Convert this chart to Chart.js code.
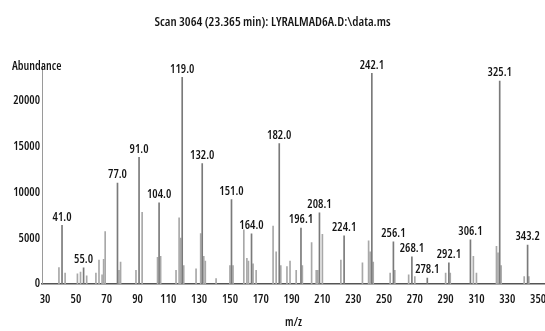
<!DOCTYPE html>
<html>
<head>
<meta charset="utf-8">
<script src="https://cdn.jsdelivr.net/npm/chart.js@4/dist/chart.umd.min.js"></script>
<style>
  html, body { margin: 0; padding: 0; background: #ffffff; }
  canvas { display: block; }
</style>
</head>
<body>
<canvas id="c" width="545" height="331"></canvas>
<script>
// ---- Data ----
const chartTitle = "Scan 3064 (23.365 min): LYRALMAD6A.D:\\data.ms";
const yAxisLabel = "Abundance";
const xAxisLabel = "m/z";

// Labeled peaks (m/z and abundance)
const peakMz = [41.0, 55.0, 77.0, 91.0, 104.0, 119.0, 132.0, 151.0, 164.0, 182.0, 196.1, 208.1, 224.1, 242.1, 256.1, 268.1, 278.1, 292.1, 306.1, 325.1, 343.2];
const peakAbundance = [6400, 1750, 11000, 13800, 8850, 22500, 13100, 9200, 5450, 15300, 6100, 7750, 5250, 22950, 4600, 2950, 650, 2300, 4800, 22100, 4250];
const peakLabels = ["41.0", "55.0", "77.0", "91.0", "104.0", "119.0", "132.0", "151.0", "164.0", "182.0", "196.1", "208.1", "224.1", "242.1", "256.1", "268.1", "278.1", "292.1", "306.1", "325.1", "343.2"];

// Unlabeled minor peaks
const minorMz = [39, 43, 51, 53, 57, 63, 65, 67, 68, 69, 78, 79, 89, 93, 103, 105, 115, 117, 118, 120, 128, 131, 133, 134, 141, 150, 152, 159, 161, 162, 165, 167, 178, 180, 183, 187, 189, 193, 197, 203, 206, 207, 210, 222, 236, 240, 241, 243, 254, 257, 266, 270, 290, 293, 308, 310, 323, 324, 326, 341, 344];
const minorAbundance = [1800, 1200, 1100, 1300, 900, 1200, 2600, 1000, 2700, 5700, 1500, 2400, 1500, 7800, 2900, 3000, 1500, 7200, 5000, 2000, 1650, 5500, 3000, 2500, 600, 2000, 2000, 5900, 2800, 2500, 2200, 1500, 6300, 3500, 2000, 1900, 2500, 1500, 2000, 4500, 1500, 1500, 5400, 2600, 2300, 4700, 3500, 2400, 1200, 1500, 1000, 800, 1200, 1200, 3000, 1200, 4100, 3400, 2000, 800, 800];

const xTicks = [30, 50, 70, 90, 110, 130, 150, 170, 190, 210, 230, 250, 270, 290, 310, 330, 350];
const yTicks = [0, 5000, 10000, 15000, 20000];

// ---- Chart ----
const FAMILY = '"Open Sans", "DejaVu Sans", sans-serif';
const WEIGHT = '600 condensed';   // weight + font-stretch for the narrow look
const TEXT = '#141414';

const peakLabelPlugin = {
  id: 'peakLabels',
  afterDatasetsDraw(chart) {
    const ctx = chart.ctx;
    const meta = chart.getDatasetMeta(0);
    ctx.save();
    ctx.font = WEIGHT + ' 12px ' + FAMILY;
    ctx.fillStyle = TEXT;
    ctx.textAlign = 'center';
    ctx.textBaseline = 'bottom';
    meta.data.forEach((bar, i) => {
      ctx.fillText(peakLabels[i], bar.x, bar.y - 2);
    });
    ctx.restore();
  }
};

const yLabelPlugin = {
  id: 'yLabel',
  afterDraw(chart) {
    const ctx = chart.ctx;
    const a = chart.chartArea;
    ctx.save();
    ctx.font = WEIGHT + ' 12px ' + FAMILY;
    ctx.fillStyle = TEXT;
    ctx.textAlign = 'left';
    ctx.textBaseline = 'middle';
    ctx.fillText(yAxisLabel, a.left - 30, a.top + 3);
    ctx.restore();
  }
};

new Chart(document.getElementById('c'), {
  type: 'bar',
  data: {
    datasets: [
      {
        data: peakMz.map((m, i) => ({ x: m, y: peakAbundance[i] })),
        backgroundColor: '#7a7a7a',
        barThickness: 1,
        grouped: false
      },
      {
        data: minorMz.map((m, i) => ({ x: m, y: minorAbundance[i] })),
        backgroundColor: '#a8a8a8',
        barThickness: 1,
        grouped: false
      }
    ]
  },
  options: {
    responsive: false,
    animation: false,
    layout: { padding: 0 },
    plugins: {
      legend: { display: false },
      tooltip: { enabled: false },
      title: {
        display: true,
        text: chartTitle,
        color: TEXT,
        font: { family: FAMILY, size: 13, weight: WEIGHT },
        padding: { top: 14, bottom: 34 }
      }
    },
    scales: {
      x: {
        type: 'linear',
        offset: false,
        min: 28,
        max: 354.5,
        grid: { display: false, drawTicks: false },
        border: { display: true, color: '#555555', width: 1.5, dash: [2, 1] },
        ticks: {
          color: TEXT,
          font: { family: FAMILY, size: 12, weight: WEIGHT },
          padding: 8,
          maxRotation: 0,
          autoSkip: false,
          callback: v => String(v)
        },
        title: {
          display: true,
          text: xAxisLabel,
          color: TEXT,
          font: { family: FAMILY, size: 12, weight: WEIGHT },
          padding: { top: 0, bottom: 1 }
        },
        afterBuildTicks: s => { s.ticks = xTicks.map(v => ({ value: v })); },
        afterFit: s => { s.height = 47; s.paddingLeft = 0; s.paddingRight = 0; }
      },
      y: {
        type: 'linear',
        min: 0,
        max: 24000,
        grid: { display: false, drawTicks: false },
        border: { display: true, color: '#9a9a9a', width: 1 },
        ticks: {
          color: TEXT,
          font: { family: FAMILY, size: 12, weight: WEIGHT },
          padding: 2,
          callback: v => String(v)
        },
        afterBuildTicks: s => { s.ticks = yTicks.map(v => ({ value: v })); },
        afterFit: s => { s.width = 42; s.paddingTop = 0; s.paddingBottom = 0; }
      }
    }
  },
  plugins: [peakLabelPlugin, yLabelPlugin]
});
</script>
</body>
</html>
